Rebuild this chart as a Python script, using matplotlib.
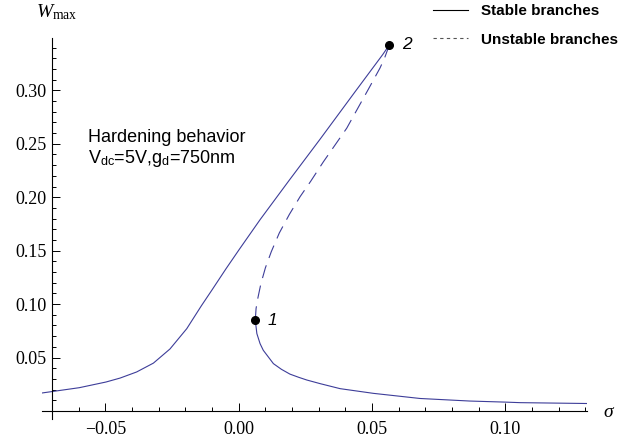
import matplotlib
matplotlib.use('Agg')
import matplotlib.pyplot as plt
from matplotlib.lines import Line2D
from matplotlib.ticker import FixedLocator, FixedFormatter, NullFormatter

# ---------------- data ----------------
upper_sigma = [-0.0739, -0.0598, -0.0498, -0.0445, -0.0383, -0.0320, -0.0258,
               -0.0195, -0.0140, -0.0101, -0.0048, 0.0002, 0.0080, 0.0190,
               0.0305, 0.0436, 0.0540, 0.0565]
upper_w = [0.0168, 0.0218, 0.0271, 0.0308, 0.0365, 0.0448, 0.0580,
           0.0770, 0.0985, 0.1130, 0.1330, 0.1512, 0.1790, 0.2161,
           0.2543, 0.2986, 0.3335, 0.3426]

unstable_sigma = [0.0565, 0.0548, 0.0530, 0.0486, 0.0443, 0.0405, 0.0361,
                  0.0317, 0.0270, 0.0230, 0.0190, 0.0152, 0.0122, 0.0100,
                  0.0083, 0.0072, 0.0065, 0.0062]
unstable_w = [0.3426, 0.3310, 0.3210, 0.3010, 0.2817, 0.2646, 0.2488,
              0.2330, 0.2150, 0.2005, 0.1840, 0.1665, 0.1490, 0.1340,
              0.1190, 0.1060, 0.0959, 0.0849]

lower_sigma = [0.0062, 0.0068, 0.0080, 0.0092, 0.0130, 0.0160, 0.0192,
               0.0225, 0.0255, 0.0305, 0.0380, 0.0505, 0.0680, 0.0867,
               0.1000, 0.1055, 0.1305]
lower_w = [0.0849, 0.0724, 0.0630, 0.0568, 0.0443, 0.0390, 0.0345,
           0.0315, 0.0290, 0.0256, 0.0209, 0.0165, 0.0117, 0.0093,
           0.0083, 0.0078, 0.0070]

bif_sigma = [0.0062, 0.0565]
bif_w = [0.0849, 0.3426]
bif_labels = ['1', '2']

x_major = [-0.05, 0.00, 0.05, 0.10]
x_major_labels = ['\u22120.05', '0.00', '0.05', '0.10']
y_major = [0.05, 0.10, 0.15, 0.20, 0.25, 0.30]
y_major_labels = ['0.05', '0.10', '0.15', '0.20', '0.25', '0.30']
x_minor = [-0.06, -0.04, -0.03, -0.02, -0.01, 0.01, 0.02, 0.03, 0.04,
           0.06, 0.07, 0.08, 0.09, 0.11, 0.12, 0.13]
y_minor = [0.01, 0.02, 0.03, 0.04, 0.06, 0.07, 0.08, 0.09, 0.11, 0.12,
           0.13, 0.14, 0.16, 0.17, 0.18, 0.19, 0.21, 0.22, 0.23, 0.24,
           0.26, 0.27, 0.28, 0.29, 0.31, 0.32, 0.33, 0.34]

# ---------------- style ----------------
plt.rcParams['mathtext.fontset'] = 'custom'
plt.rcParams['mathtext.rm'] = 'Liberation Serif'
plt.rcParams['mathtext.it'] = 'Liberation Serif:italic'
plt.rcParams['mathtext.sf'] = 'Liberation Sans'
plt.rcParams['font.family'] = ['Liberation Sans', 'DejaVu Sans']

curve_color = '#3d3d99'

fig = plt.figure(figsize=(6.34, 4.41), dpi=100)
ax = fig.add_axes([41.7 / 634, 22 / 441, 545 / 634, 381 / 441])
ax.set_xlim(-0.0739, 0.1305)
ax.set_ylim(-0.0075, 0.349)

ax.plot(upper_sigma, upper_w, color=curve_color, lw=0.8, solid_joinstyle='round')
ax.plot(lower_sigma, lower_w, color=curve_color, lw=0.8, solid_joinstyle='round')
ax.plot(unstable_sigma, unstable_w, color=curve_color, lw=0.8, dashes=(12, 7))
ax.plot(bif_sigma, bif_w, 'o', color='black', ms=5.5, zorder=5)
for s, w, lab in zip(bif_sigma, bif_w, bif_labels):
    ax.annotate(lab, (s, w), xytext=(9, 0), textcoords='offset points',
                ha='left', va='center', fontsize=12.5, style='italic',
                family='Liberation Sans')

# axes in Mathematica style
for sp in ['top', 'right']:
    ax.spines[sp].set_visible(False)
ax.spines['left'].set_position(('data', -0.07))
ax.spines['bottom'].set_position(('data', 0.0))
ax.spines['left'].set_linewidth(0.8)
ax.spines['bottom'].set_linewidth(0.8)

ax.xaxis.set_major_locator(FixedLocator(x_major))
ax.xaxis.set_major_formatter(FixedFormatter(x_major_labels))
ax.xaxis.set_minor_locator(FixedLocator(x_minor))
ax.xaxis.set_minor_formatter(NullFormatter())
ax.yaxis.set_major_locator(FixedLocator(y_major))
ax.yaxis.set_major_formatter(FixedFormatter(y_major_labels))
ax.yaxis.set_minor_locator(FixedLocator(y_minor))
ax.yaxis.set_minor_formatter(NullFormatter())

ax.tick_params(which='both', direction='in', width=0.7, color='black')
ax.tick_params(which='major', length=6)
ax.tick_params(which='minor', length=3.1)
ax.tick_params(axis='x', which='major', pad=7)
ax.tick_params(axis='y', which='major', pad=4)
for lab in ax.get_xticklabels() + ax.get_yticklabels():
    lab.set_family('Liberation Serif')
    lab.set_fontsize(13)

# axis labels
ax.text(-0.0760, 0.368, r'$W_{\mathrm{max}}$', fontsize=14, ha='left',
        va='baseline', clip_on=False)
ax.text(0.1366, -0.0018, r'$\sigma$', fontsize=14, ha='left', va='center',
        clip_on=False)

# annotation
ax.text(-0.0565, 0.2517, 'Hardening behavior', fontsize=13, ha='left',
        va='baseline')
ax.text(-0.0565, 0.232, r'V$_{\mathsf{dc}}$=5V,g$_{\mathsf{d}}$=750nm',
        fontsize=13, ha='left', va='baseline')

# legend
handles = [Line2D([], [], color='black', lw=0.8),
           Line2D([], [], color='#555555', lw=0.8, dashes=(3, 3))]
fig.legend(handles, ['Stable branches', 'Unstable branches'],
           loc='upper left', bbox_to_anchor=(433 / 634, 1 - 4 / 441),
           frameon=False, borderpad=0, borderaxespad=0,
           handlelength=2.3, handletextpad=0.85, labelspacing=0.96,
           prop={'family': 'Liberation Sans', 'weight': 'bold', 'size': 11})

fig.savefig('out.png', dpi=100)
